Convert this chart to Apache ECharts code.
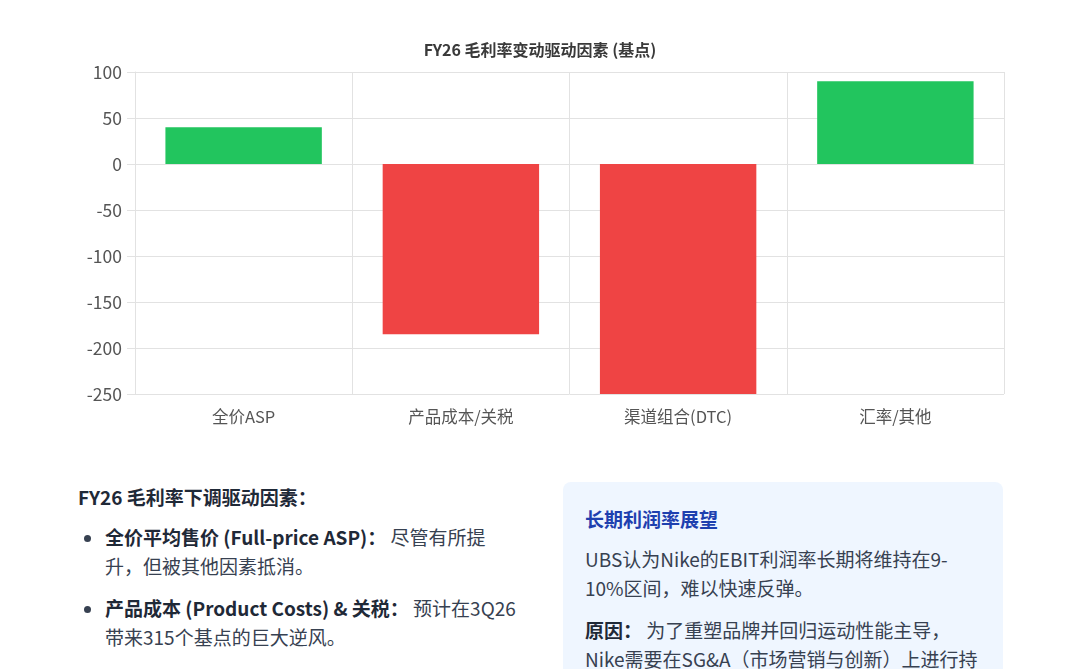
<!DOCTYPE html>
<html>
<head>
<meta charset="utf-8">
<script src="https://cdn.jsdelivr.net/npm/echarts@6/dist/echarts.min.js"></script>
<style>
  body { margin: 0; background: #fff; font-family: "Noto Sans CJK SC", "Noto Sans", sans-serif; color: #374151; }
  #page { position: relative; width: 1080px; height: 669px; overflow: hidden; }
  #chart { position: absolute; left: 0; top: 0; width: 1080px; height: 450px; }
  #left { position: absolute; left: 78px; top: 482px; width: 442px; font-size: 19px; }
  #left h4 { margin: 0 0 10px 0; font-size: 19px; font-weight: bold; color: #1f2937; line-height: 30px; }
  #left ul { margin: 0; padding-left: 27px; }
  #left li { line-height: 29px; margin-bottom: 13px; }
  #left li b { color: #1f2937; }
  #box { position: absolute; left: 563px; top: 482px; width: 396px; height: 240px; padding: 22px; background: #eff6ff; border-radius: 8px; font-size: 19px; }
  #box h4 { margin: 0 0 10px 0; font-size: 19px; color: #1e40af; line-height: 30px; }
  #box p { margin: 0 0 13px 0; line-height: 29px; }
  #box p b { color: #1f2937; }
</style>
</head>
<body>
<div id="page">
  <div id="chart"></div>
  <div id="left">
    <h4>FY26 毛利率下调驱动因素：</h4>
    <ul>
      <li><b>全价平均售价 (Full-price ASP)：</b> 尽管有所提升，但被其他因素抵消。</li>
      <li><b>产品成本 (Product Costs) &amp; 关税：</b> 预计在3Q26带来315个基点的巨大逆风。</li>
    </ul>
  </div>
  <div id="box">
    <h4>长期利润率展望</h4>
    <p>UBS认为Nike的EBIT利润率长期将维持在9-10%区间，难以快速反弹。</p>
    <p><b>原因：</b> 为了重塑品牌并回归运动性能主导，Nike需要在SG&amp;A（市场营销与创新）上进行持续投入。</p>
  </div>
</div>
<script>
// 数据
var categories = ['全价ASP', '产品成本/关税', '渠道组合(DTC)', '汇率/其他']
var values = [40, -185, -250, 90]
var yTicks = [100, 50, 0, -50, -100, -150, -200, -250]

var dom = document.getElementById('chart');
var myChart = echarts.init(dom);

var option = {
  animation: false,
  title: {
    text: 'FY26 毛利率变动驱动因素 (基点)',
    left: 'center',
    top: 37,
    textStyle: { fontSize: 16, fontWeight: 'bold', color: '#3a3a3a', fontFamily: 'Noto Sans CJK SC' }
  },
  grid: { left: 135, right: 76, top: 72, bottom: 56 },
  xAxis: {
    type: 'category',
    data: categories,
    axisLine: { show: false },
    axisTick: { show: true, length: 9, lineStyle: { color: '#e2e2e2' } },
    splitLine: { show: true, lineStyle: { color: '#e2e2e2' } },
    axisLabel: { fontSize: 16.5, color: '#555', margin: 14, fontFamily: 'Noto Sans CJK SC' }
  },
  yAxis: {
    type: 'value',
    min: yTicks[yTicks.length - 1],
    max: yTicks[0],
    interval: 50,
    axisLine: { show: true, lineStyle: { color: '#e2e2e2' } },
    axisTick: { show: true, length: 8, lineStyle: { color: '#e2e2e2' } },
    splitLine: { lineStyle: { color: '#e2e2e2' } },
    axisLabel: { fontSize: 17.5, color: '#555', margin: 13, fontFamily: 'Noto Sans CJK SC' }
  },
  series: [
    {
      type: 'bar',
      barWidth: '72%',
      data: values,
      itemStyle: {
        color: function (p) { return p.value >= 0 ? '#22c55e' : '#ef4444' }
      }
    }
  ]
};
myChart.setOption(option);
</script>
</body>
</html>
